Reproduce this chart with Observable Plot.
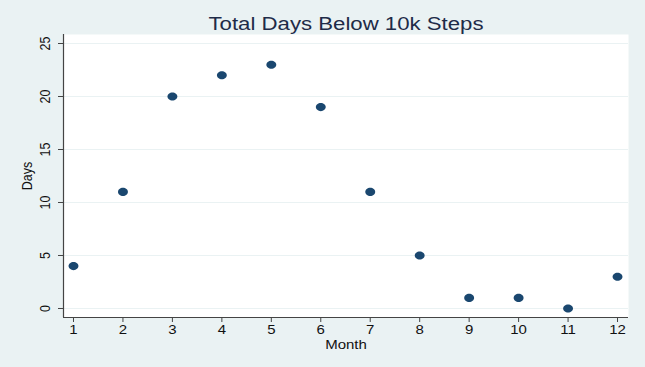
<!DOCTYPE html>
<html>
<head>
<meta charset="utf-8">
<script src="https://cdn.jsdelivr.net/npm/d3@7"></script>
<script src="https://cdn.jsdelivr.net/npm/@observablehq/plot@0.6"></script>
<style>
  html, body { margin: 0; padding: 0; background: #EAF2F3; }
  #chart svg { display: block; }
</style>
</head>
<body>
<div id="chart"></div>
<script>
const months = [1, 2, 3, 4, 5, 6, 7, 8, 9, 10, 11, 12];
const days = [4, 11, 20, 22, 23, 19, 11, 5, 1, 1, 0, 3];
const yTicks = [0, 5, 10, 15, 20, 25];
const xTicks = [1, 2, 3, 4, 5, 6, 7, 8, 9, 10, 11, 12];
const title = "Total Days Below 10k Steps";
const xLabel = "Month";
const yLabel = "Days";

const data = months.map((m, i) => ({month: m, days: days[i]}));
const xDomain = [0.798, 12.222];
const yDomain = [-0.85, 25.85];

// slightly wide ellipse marker (the reference image is stretched horizontally)
const ellipse = {
  draw(context, size) {
    const r = Math.sqrt(size / Math.PI);
    const rx = r * 1.1, ry = r * 0.9, k = 0.5523;
    context.moveTo(rx, 0);
    context.bezierCurveTo(rx, k * ry, k * rx, ry, 0, ry);
    context.bezierCurveTo(-k * rx, ry, -rx, k * ry, -rx, 0);
    context.bezierCurveTo(-rx, -k * ry, -k * rx, -ry, 0, -ry);
    context.bezierCurveTo(k * rx, -ry, rx, -k * ry, rx, 0);
    context.closePath();
  }
};

const chart = Plot.plot({
  width: 645,
  height: 367,
  marginLeft: 63,
  marginRight: 17,
  marginTop: 34,
  marginBottom: 50,
  style: {background: "#EAF2F3", fontFamily: "'Liberation Sans', Arial, sans-serif", color: "#000"},
  x: {domain: xDomain},
  y: {domain: yDomain},
  marks: [
    Plot.frame({fill: "white", stroke: null}),
    Plot.gridY(yTicks, {stroke: "#EAF2F3", strokeOpacity: 1, strokeWidth: 1}),
    Plot.ruleX([xDomain[0]], {stroke: "#444", strokeWidth: 1.2}),
    Plot.ruleY([yDomain[0]], {stroke: "#444", strokeWidth: 1.2}),
    Plot.axisY(yTicks, {anchor: "left", tickSize: 5, tickRotate: -90, fontSize: 12.5, label: null, stroke: "#444", fill: "#111", tickPadding: 9}),
    Plot.axisX(xTicks, {anchor: "bottom", tickSize: 5, fontSize: 12.5, label: null, stroke: "#444", fill: "#111", tickPadding: 3}),
    Plot.text([yLabel], {frameAnchor: "left", textAnchor: "middle", dx: -36, rotate: -90, fontSize: 12.5, fill: "#111"}),
    Plot.text([xLabel], {frameAnchor: "bottom", lineAnchor: "bottom", dy: 31, fontSize: 12.5, fill: "#111"}),
    Plot.text([title], {frameAnchor: "top", lineAnchor: "bottom", dy: -5, fontSize: 18.5, fill: "#1e2b48"}),
    Plot.dot(data, {x: "month", y: "days", r: 4.5, symbol: ellipse, fill: "#1a476f", stroke: null})
  ]
});

// stretch text horizontally to mimic the reference's aspect
const SX = 1.2;
chart.querySelectorAll("text").forEach(t => {
  const tr = t.getAttribute("transform");
  if (tr && /^translate\([^)]*\)/.test(tr)) {
    t.setAttribute("transform", tr.replace(/^(translate\([^)]*\))/, `$1 scale(${SX},1)`));
  } else if (!tr) {
    const x = +(t.getAttribute("x") || 0), y = +(t.getAttribute("y") || 0);
    t.removeAttribute("x"); t.removeAttribute("y");
    t.setAttribute("transform", `translate(${x},${y}) scale(${SX},1)`);
  } else {
    t.setAttribute("transform", `${tr} scale(${SX},1)`);
  }
});

document.getElementById("chart").append(chart);
</script>
</body>
</html>
